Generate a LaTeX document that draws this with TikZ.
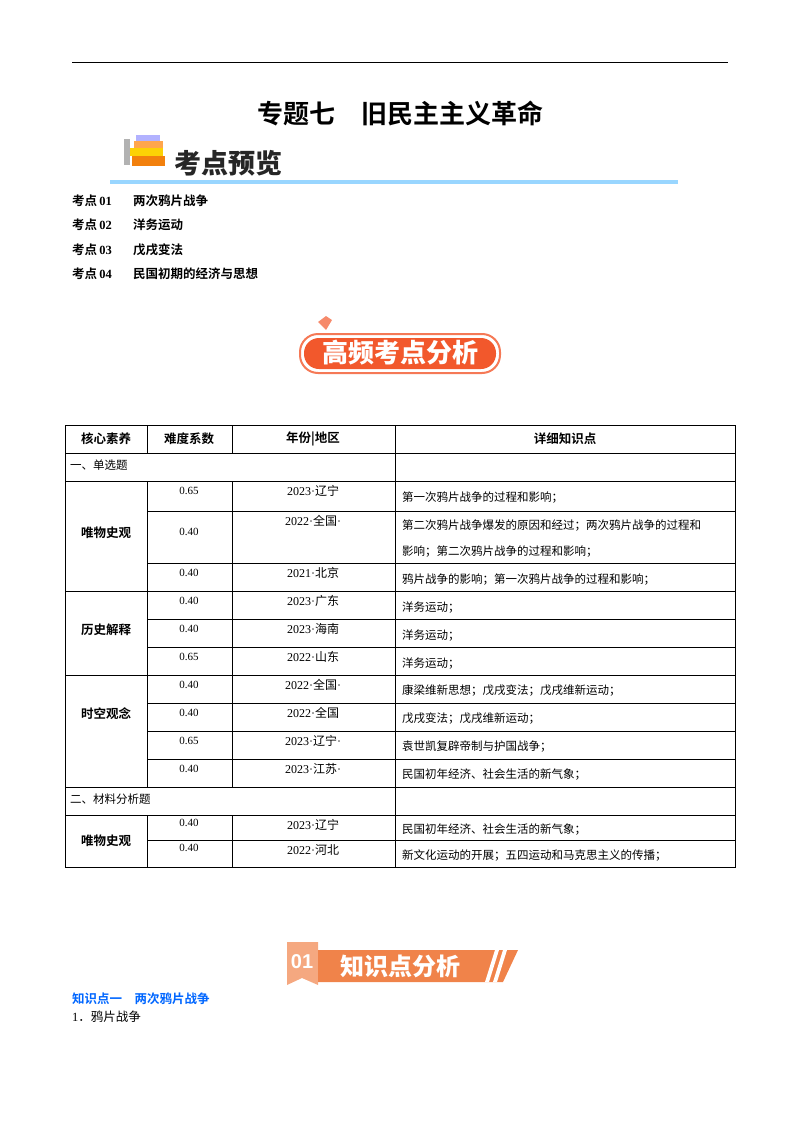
\documentclass[tikz,border=0pt]{standalone}
\usepackage{fontspec}
\setmainfont{Liberation Serif}
\setsansfont{Liberation Sans}
\newfontfamily\cjk{Noto Sans CJK SC}
\newfontfamily\cjkb{Noto Sans CJK SC Bold}
\newfontfamily\cjkh{Noto Sans CJK SC Black}
\definecolor{hot}{HTML}{F2582C}
\definecolor{org}{HTML}{F0834A}
\begin{document}
\begin{tikzpicture}[x=1pt,y=-1pt,
  cell/.style={inner sep=0pt,font=\fontsize{11.5}{12}\selectfont\cjk},
  num/.style={inner sep=0pt,font=\fontsize{11}{12}\selectfont},
  hd/.style={inner sep=0pt,font=\fontsize{12.5}{13}\selectfont\cjkb},
  grid/.style={line width=0.7pt,black}]
\useasboundingbox (0,0) rectangle (800,1132);
\draw[line width=1pt] (72,63) -- (728,63);
\node[inner sep=0pt,font=\fontsize{26}{28}\selectfont\cjkb] (title) at (400,113) {专题七\hspace{1em}旧民主主义革命};
% badge 1
\fill[gray!60] (124,139) rectangle (130,165);
\fill[orange!80!brown] (132,156) rectangle (165,166);
\fill[yellow!70!orange] (130,148) rectangle (163,156);
\fill[orange!70] (134,141) rectangle (163,148);
\fill[blue!30] (136,135) rectangle (160,141);
\node[inner sep=0pt,font=\fontsize{27}{28}\selectfont\cjkh,text=black!85] (kd) at (228,163) {考点预览};
\fill[blue!40!cyan!40] (110,180) rectangle (678,184);
\foreach \i/\t/\y in {01/两次鸦片战争/201,02/洋务运动/225,03/戊戌变法/250,04/民国初期的经济与思想/274}{
  \node[anchor=west,inner sep=0pt,font=\fontsize{12.5}{13}\selectfont] (k\i) at (72,\y) {{\cjkb 考点}\,\textbf{\i}};
  \node[anchor=west,inner sep=0pt,font=\fontsize{12.5}{13}\selectfont\cjkb] (t\i) at (133,\y) {\t};}
% badge 2
\fill[hot!70] (318,322) -- (326,316) -- (332,320) -- (326,330) -- cycle;
\draw[line width=2pt,hot!80,rounded corners=18pt] (300,334) rectangle (500,373);
\fill[hot,rounded corners=15pt] (304,338) rectangle (496,369);
\node[inner sep=0pt,font=\fontsize{26}{28}\selectfont\cjkh,text=white] (gp) at (400,353) {高频考点分析};
% table
\draw[grid] (65,425) rectangle (735,867);
\foreach \y in {453,481,787,815}{\draw[grid] (65,\y) -- (735,\y);}
\foreach \y in {511,563,591,619,647,675,703,731,759,840}{\draw[grid] (147,\y) -- (735,\y);}
\foreach \y in {591,675}{\draw[grid] (65,\y) -- (147,\y);}
\draw[grid] (395,425) -- (395,867);
\foreach \x in {147,232}{\draw[grid] (\x,425) -- (\x,453); \draw[grid] (\x,481) -- (\x,787); \draw[grid] (\x,815) -- (\x,867);}
\node[hd] (h1) at (106,439) {核心素养};
\node[hd] (h2) at (189,439) {难度系数};
\node[hd] (h3) at (313,439) {年份|地区};
\node[hd] (h4) at (565,439) {详细知识点};
\node[cell,anchor=west] (s1) at (70,465) {一、单选题};
\node[cell,anchor=west] (s2) at (70,799) {二、材料分析题};
\node[hd] (c1) at (106,533) {唯物史观};
\node[hd] (c2) at (106,630) {历史解释};
\node[hd] (c3) at (106,714) {时空观念};
\node[hd] (c4) at (106,841) {唯物史观};
\foreach \n/\d/\yr/\pl/\tr/\y/\dy in {
 a/0.65/2023/辽宁//481/10,
 b/0.40/2022/全国/·/511/21,
 c/0.40/2021/北京//563/10,
 d/0.40/2023/广东//591/10,
 e/0.40/2023/海南//619/10,
 f/0.65/2022/山东//647/10,
 g/0.40/2022/全国/·/675/10,
 h/0.40/2022/全国//703/10,
 i/0.65/2023/辽宁/·/731/10,
 j/0.40/2023/江苏/·/759/10,
 k/0.40/2023/辽宁//815/8,
 l/0.40/2022/河北//840/8}{
  \pgfmathsetmacro\yy{\y+\dy}
  \pgfmathsetmacro\yz{\y+10}
  \node[num] (d\n) at (189,\yy) {\d};
  \node[num,font=\fontsize{12}{13}\selectfont] (y\n) at (313,\yz) {\yr·{\cjk\pl}\tr};}
\foreach \n/\t/\y in {a/第一次鸦片战争的过程和影响；/498,c/鸦片战争的影响；第一次鸦片战争的过程和影响；/580,
 d/洋务运动；/608,e/洋务运动；/636,f/洋务运动；/664,g/康梁维新思想；戊戌变法；戊戌维新运动；/691,
 h/戊戌变法；戊戌维新运动；/719,i/袁世凯复辟帝制与护国战争；/747,j/民国初年经济、社会生活的新气象；/775,
 k/民国初年经济、社会生活的新气象；/830,l/新文化运动的开展；五四运动和马克思主义的传播；/856}{
  \node[cell,anchor=west] (x\n) at (402,\y) {\t};}
\node[cell,anchor=west] (xb1) at (402,526) {第二次鸦片战争爆发的原因和经过；两次鸦片战争的过程和};
\node[cell,anchor=west] (xb2) at (402,552) {影响；第二次鸦片战争的过程和影响；};
% badge 3
\fill[org!70] (287,942) -- (318,942) -- (318,985) -- (302,978) -- (287,985) -- cycle;
\fill[org] (318,950) -- (518,950) -- (503,982) -- (318,982) -- cycle;
\fill[white] (495,950) -- (499,950) -- (489,982) -- (485,982) -- cycle;
\fill[white] (503,950) -- (507,950) -- (497,982) -- (493,982) -- cycle;
\node[inner sep=0pt,font=\fontsize{20}{22}\selectfont\bfseries\sffamily,text=white] (n01) at (302,962) {01};
\node[inner sep=0pt,font=\fontsize{24}{26}\selectfont\cjkh,text=white] (zs) at (400,966) {知识点分析};
\node[anchor=west,inner sep=0pt,font=\fontsize{12.5}{13}\selectfont\cjkb,text=blue!60!cyan] (z1) at (72,999) {知识点一\hspace{1em}两次鸦片战争};
\node[anchor=west,inner sep=0pt,font=\fontsize{12.5}{13}\selectfont] (z2) at (72,1017) {1{\cjk．鸦片战争}};
\end{tikzpicture}
\end{document}
